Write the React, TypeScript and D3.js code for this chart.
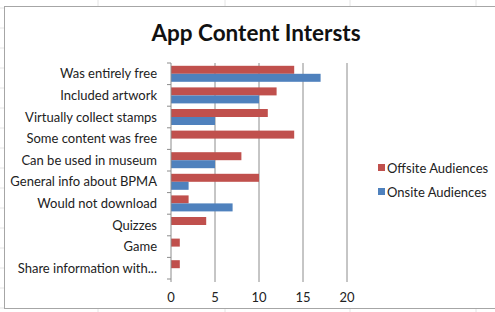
import React, { useEffect, useRef } from 'react';
import * as d3 from 'd3';

const categories = [
  'Was entirely free',
  'Included artwork',
  'Virtually collect stamps',
  'Some content was free',
  'Can be used in museum',
  'General info about BPMA',
  'Would not download',
  'Quizzes',
  'Game',
  'Share information with...',
];
const offsite = [14, 12, 11, 14, 8, 10, 2, 4, 1, 1];
const onsite = [17, 10, 5, 0, 5, 2, 7, 0, 0, 0];
const xTicks = [0, 5, 10, 15, 20];
const seriesNames = ['Offsite Audiences', 'Onsite Audiences'];
const seriesColors = ['#C0504D', '#4F81BD'];

const App = () => {
  const svgRef = useRef<SVGSVGElement>(null);

  useEffect(() => {
    const svg = d3.select(svgRef.current);
    svg.selectAll('*').remove();

    const width = 495;
    const height = 312;
    const font = 'Lato, "Open Sans", sans-serif';

    // spreadsheet background lines
    const bg = svg.append('g');
    [98, 225, 350, 476].forEach(x => {
      bg.append('line').attr('x1', x).attr('x2', x).attr('y1', 0).attr('y2', height)
        .attr('stroke', '#e4e4e4');
    });
    [8, 28, 48, 68, 88, 108, 128, 148, 168, 188, 208, 228, 248, 268, 288, 308].forEach(y => {
      bg.append('line').attr('x1', 0).attr('x2', 5).attr('y1', y).attr('y2', y)
        .attr('stroke', '#e4e4e4');
    });

    // chart area
    svg.append('rect')
      .attr('x', 4.5).attr('y', 6.5)
      .attr('width', width + 10).attr('height', 302)
      .attr('fill', '#fff')
      .attr('stroke', '#a6a6a6');

    svg.append('text')
      .attr('x', 256).attr('y', 41)
      .attr('text-anchor', 'middle')
      .attr('font-family', font)
      .attr('font-weight', 'bold')
      .attr('font-size', 22.5)
      .attr('fill', '#111')
      .text('App Content Intersts');

    const margin = { left: 171, right: 148, top: 63, bottom: 33 };
    const x = d3.scaleLinear().domain([0, 20]).range([margin.left, width - margin.right]);
    const y = d3.scaleBand().domain(categories).range([margin.top, height - margin.bottom]);
    const inner = d3.scaleBand().domain(['0', '1']).range([0, y.bandwidth()]).paddingOuter(0.35);

    // gridlines
    svg.append('g')
      .selectAll('line')
      .data(xTicks.slice(1))
      .enter()
      .append('line')
      .attr('x1', d => x(d)).attr('x2', d => x(d))
      .attr('y1', margin.top).attr('y2', height - margin.bottom + 3)
      .attr('stroke', '#8c8c8c')
      .attr('stroke-width', 1);

    const rows = categories.map((c, i) => ({ c, vals: [offsite[i], onsite[i]] }));
    const groups = svg.append('g')
      .selectAll('g')
      .data(rows)
      .enter()
      .append('g')
      .attr('transform', d => `translate(0,${y(d.c)})`);

    groups.selectAll('rect')
      .data(d => d.vals.map((v, k) => ({ v, k })))
      .enter()
      .append('rect')
      .attr('x', x(0))
      .attr('y', d => inner(String(d.k))!)
      .attr('width', d => x(d.v) - x(0))
      .attr('height', inner.bandwidth())
      .attr('fill', d => seriesColors[d.k]);

    // y axis
    const yAxis = svg.append('g')
      .attr('transform', `translate(${x(0)},0)`);
    yAxis.append('line')
      .attr('x1', 0).attr('x2', 0)
      .attr('y1', margin.top).attr('y2', height - margin.bottom + 3)
      .attr('stroke', '#8c8c8c');
    const bounds = d3.range(categories.length + 1).map(i => margin.top + i * y.step());
    yAxis.selectAll('.tk')
      .data(bounds)
      .enter()
      .append('line')
      .attr('x1', -4).attr('x2', 0)
      .attr('y1', d => d).attr('y2', d => d)
      .attr('stroke', '#8c8c8c');
    yAxis.selectAll('text')
      .data(categories)
      .enter()
      .append('text')
      .attr('x', -14)
      .attr('y', d => y(d)! + y.bandwidth() / 2)
      .attr('dy', '0.35em')
      .attr('text-anchor', 'end')
      .attr('font-family', font)
      .attr('font-size', 13)
      .attr('fill', '#222')
      .text(d => d);

    // x tick labels
    svg.append('g')
      .selectAll('text')
      .data(xTicks)
      .enter()
      .append('text')
      .attr('x', d => x(d))
      .attr('y', 302)
      .attr('text-anchor', 'middle')
      .attr('font-family', font)
      .attr('font-size', 13)
      .attr('fill', '#222')
      .text(d => d);

    // legend
    const legend = svg.append('g').attr('transform', 'translate(378,168)');
    seriesNames.forEach((name, i) => {
      legend.append('rect')
        .attr('x', 0).attr('y', i * 24 - 4)
        .attr('width', 7).attr('height', 7)
        .attr('fill', seriesColors[i]);
      legend.append('text')
        .attr('x', 9).attr('y', i * 24)
        .attr('dy', '0.35em')
        .attr('font-family', font)
        .attr('font-size', 13)
        .attr('fill', '#222')
        .text(name);
    });
  }, []);

  return (
    <svg ref={svgRef} width={495} height={312}
      style={{ position: 'absolute', left: 0, top: 0, background: '#fff' }}></svg>
  );
};

export default App;
